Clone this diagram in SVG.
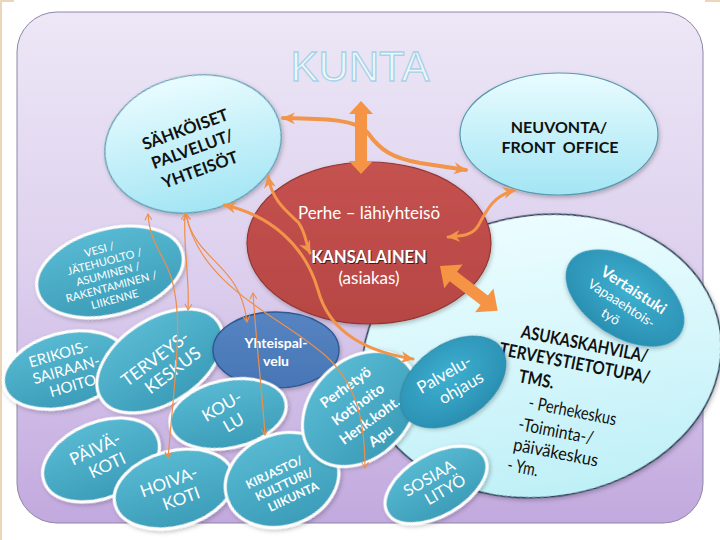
<svg xmlns="http://www.w3.org/2000/svg" width="720" height="540" viewBox="0 0 720 540">
<defs>
<linearGradient id="bg" x1="0" y1="0" x2="0" y2="1">
<stop offset="0" stop-color="#ede7f6"/><stop offset="0.5" stop-color="#ddd0ee"/><stop offset="1" stop-color="#c2a9de"/>
</linearGradient>
<linearGradient id="cyan" x1="0" y1="0" x2="0" y2="1">
<stop offset="0" stop-color="#e9fcff"/><stop offset="1" stop-color="#a3e5f4"/>
</linearGradient>
<linearGradient id="cyanBig" x1="0" y1="0" x2="0" y2="1">
<stop offset="0" stop-color="#ecfdff"/><stop offset="1" stop-color="#bff0f7"/>
</linearGradient>
<linearGradient id="teal" x1="0" y1="0" x2="0" y2="1">
<stop offset="0" stop-color="#58b9d2"/><stop offset="1" stop-color="#3c9db9"/>
</linearGradient>
<radialGradient id="tealDeep" cx="0.5" cy="0.4" r="0.6">
<stop offset="0" stop-color="#3eb0d0"/><stop offset="1" stop-color="#2a8fb2"/>
</radialGradient>
<linearGradient id="red" x1="0" y1="0" x2="0" y2="1">
<stop offset="0" stop-color="#c5524f"/><stop offset="1" stop-color="#b64643"/>
</linearGradient>
<linearGradient id="blue" x1="0" y1="0" x2="0" y2="1">
<stop offset="0" stop-color="#5684c2"/><stop offset="1" stop-color="#4876b6"/>
</linearGradient>
<marker id="ah" viewBox="0 0 14 14" markerWidth="14" markerHeight="14" refX="12" refY="7" orient="auto-start-reverse" markerUnits="userSpaceOnUse">
<path d="M0,1 L13,7 L0,13 L4,7 Z" fill="#f29449"/>
</marker>
<marker id="at" viewBox="0 0 8 8" markerWidth="8" markerHeight="8" refX="7" refY="4" orient="auto-start-reverse" markerUnits="userSpaceOnUse">
<path d="M1,0.5 L7,4 L1,7.5" fill="none" stroke="#ee8e4c" stroke-width="1.1"/>
</marker>
<filter id="sh" x="-20%" y="-20%" width="140%" height="140%">
<feDropShadow dx="1" dy="2" stdDeviation="2" flood-color="#000" flood-opacity="0.25"/>
</filter>
</defs>
<style>
text{font-family:Lato,"Liberation Sans",sans-serif;}
.dk{fill:#111;font-weight:bold;text-anchor:middle;}
.wt{fill:#fff;text-anchor:middle;}
.tealE{fill:url(#teal);stroke:#fff;stroke-width:3;}
.thick{fill:none;stroke:#f29449;stroke-width:4;stroke-linecap:round;}
.mid{fill:none;stroke:#f29449;stroke-width:3;stroke-linecap:round;}
.thin{fill:none;stroke:#ee8e4c;stroke-width:1.2;}
.blk{fill:#f59445;}
</style>

<rect x="0" y="0" width="720" height="540" fill="#fff"/>
<path d="M1,0 V540" stroke="#ecd6ba" stroke-width="2"/>
<path d="M0,1 H14 M705,1 H720" stroke="#ecd6ba" stroke-width="2"/>

<rect x="17" y="12" width="686" height="511" rx="40" ry="40" fill="url(#bg)" stroke="#8d86a8" stroke-width="1"/>

<text x="360" y="81" font-size="42" text-anchor="middle" fill="#f0f7fb" stroke="#a6d2e6" stroke-width="1.3" style="font-family:'Liberation Sans',sans-serif">KUNTA</text>

<g id="asukaskahvila">
<ellipse cx="542" cy="356" rx="180" ry="141" transform="rotate(-8 542 356)" fill="url(#cyanBig)" stroke="#2c3e55" stroke-width="1.5" filter="url(#sh)"/>
<g transform="rotate(11 517 338)" font-size="18" fill="#111">
<text x="520" y="337" font-weight="bold" textLength="129" lengthAdjust="spacingAndGlyphs">ASUKASKAHVILA/</text>
<text x="502" y="358" font-weight="bold" textLength="153" lengthAdjust="spacingAndGlyphs">TERVEYSTIETOTUPA/</text>
<text x="526" y="381" font-weight="bold" textLength="36" lengthAdjust="spacingAndGlyphs">TMS.</text>
<text x="541" y="405" textLength="89" lengthAdjust="spacingAndGlyphs">- Perhekeskus</text>
<text x="535" y="428" textLength="76" lengthAdjust="spacingAndGlyphs">-Toiminta-/</text>
<text x="534" y="449" textLength="86" lengthAdjust="spacingAndGlyphs">päiväkeskus</text>
<text x="532" y="470" textLength="31" lengthAdjust="spacingAndGlyphs">- Ym.</text>
</g>
</g>

<g id="vertaistuki">
<ellipse cx="625" cy="298" rx="66" ry="39" transform="rotate(33 625 298)" fill="url(#tealDeep)" filter="url(#sh)"/>
<g transform="rotate(33 625 298)">
<text x="628" y="292" font-size="15.5" font-weight="bold" class="wt">Vertaistuki</text>
<text x="625" y="309" font-size="13.5" class="wt">Vapaaehtois-</text>
<text x="623" y="326" font-size="13.5" class="wt">työ</text>
</g>
</g>

<g id="sahkoiset">
<ellipse cx="193" cy="144" rx="89" ry="68" transform="rotate(-12 193 144)" fill="url(#cyan)" stroke="#5a98ae" stroke-width="1.2" filter="url(#sh)"/>
<g transform="rotate(-20 192 148)" font-size="16.5">
<text x="192" y="134" class="dk">SÄHKÖISET</text>
<text x="192" y="155" class="dk">PALVELUT/</text>
<text x="192" y="177" class="dk">YHTEISÖT</text>
</g>
</g>

<g id="neuvonta">
<ellipse cx="559" cy="134" rx="99" ry="61" fill="url(#cyan)" stroke="#5a98ae" stroke-width="1.2" filter="url(#sh)"/>
<text x="559" y="133" font-size="16" class="dk">NEUVONTA/</text>
<text x="560" y="153" font-size="16" class="dk" xml:space="preserve">FRONT  OFFICE</text>
</g>

<g id="kansalainen">
<ellipse cx="369" cy="243" rx="122" ry="81" fill="url(#red)" stroke="#923533" stroke-width="1.2" filter="url(#sh)"/>
<text x="369" y="219" font-size="17" class="wt">Perhe – lähiyhteisö</text>
<text x="369.8" y="263.8" font-size="16.5" font-weight="bold" text-anchor="middle" fill="#3a1a1a">KANSALAINEN</text>
<text x="369" y="263" font-size="16.5" font-weight="bold" class="wt">KANSALAINEN</text>
<text x="369" y="284" font-size="17" class="wt">(asiakas)</text>
</g>

<g id="vesi">
<ellipse cx="110" cy="272" rx="75" ry="43" transform="rotate(-15 110 272)" class="tealE" filter="url(#sh)"/>
<g transform="rotate(-15 108 274)" font-size="11">
<text x="106" y="252" class="wt">VESI /</text>
<text x="108" y="265" class="wt">JÄTEHUOLTO /</text>
<text x="108" y="278" class="wt">ASUMINEN /</text>
<text x="108" y="291" class="wt">RAKENTAMINEN /</text>
<text x="108" y="304" class="wt">LIIKENNE</text>
</g>
</g>

<g id="erikois">
<ellipse cx="65" cy="370" rx="63" ry="37" transform="rotate(-15 65 370)" class="tealE" filter="url(#sh)"/>
<g transform="rotate(-16 66 369)" font-size="15">
<text x="63" y="358" class="wt">ERIKOIS-</text>
<text x="66" y="375" class="wt">SAIRAAN-</text>
<text x="68" y="392" class="wt">HOITO</text>
</g>
</g>

<g id="terveyskeskus">
<ellipse cx="160" cy="361" rx="70" ry="42" transform="rotate(-33 160 361)" class="tealE" filter="url(#sh)"/>
<g transform="rotate(-37 163 364)" font-size="17.5">
<text x="160" y="361" class="wt">TERVEYS-</text>
<text x="167" y="381" class="wt">KESKUS</text>
</g>
</g>

<g id="yhteispalvelu">
<ellipse cx="276" cy="350" rx="63" ry="38" fill="url(#blue)" stroke="#2f5a94" stroke-width="1.5" filter="url(#sh)"/>
<text x="276" y="348" font-size="14" font-weight="bold" class="wt">Yhteispal-</text>
<text x="276" y="366" font-size="14" font-weight="bold" class="wt">velu</text>
</g>

<g id="koulu">
<ellipse cx="228" cy="414" rx="59" ry="34" transform="rotate(-12 228 414)" class="tealE" filter="url(#sh)"/>
<g transform="rotate(-30 228 413)" font-size="17">
<text x="226" y="410" class="wt">KOU-</text>
<text x="228" y="430" class="wt">LU</text>
</g>
</g>

<g id="paivakoti">
<ellipse cx="101" cy="460" rx="61" ry="38" transform="rotate(-22 101 460)" class="tealE" filter="url(#sh)"/>
<g transform="rotate(-25 101 457)" font-size="17">
<text x="99" y="453" class="wt">PÄIVÄ-</text>
<text x="103" y="473" class="wt">KOTI</text>
</g>
</g>

<g id="hoivakoti">
<ellipse cx="174" cy="489" rx="61" ry="38" transform="rotate(-15 174 489)" class="tealE" filter="url(#sh)"/>
<g transform="rotate(-20 175 490)" font-size="17">
<text x="172" y="486" class="wt">HOIVA-</text>
<text x="178" y="506" class="wt">KOTI</text>
</g>
</g>

<g id="kirjasto">
<ellipse cx="282" cy="480" rx="58" ry="46" transform="rotate(-20 282 480)" class="tealE" filter="url(#sh)"/>
<g transform="rotate(-25 283 484)" font-size="12" font-weight="bold">
<text x="280" y="474" class="wt">KIRJASTO/</text>
<text x="284" y="489" class="wt">KULTTURI/</text>
<text x="287" y="504" class="wt">LIIKUNTA</text>
</g>
</g>

<g id="perhetyo">
<ellipse cx="360" cy="409" rx="65" ry="49" transform="rotate(-45 360 409)" class="tealE" filter="url(#sh)"/>
<g transform="rotate(-36 362 410)" font-size="14.5" font-weight="bold">
<text x="362" y="387" class="wt">Perhetyö</text>
<text x="362" y="408" class="wt">Kotihoito</text>
<text x="362" y="428" class="wt">Henk.koht.</text>
<text x="362" y="447" class="wt">Apu</text>
</g>
</g>

<g id="palveluohjaus">
<ellipse cx="453" cy="382" rx="59" ry="38" transform="rotate(-35 453 382)" fill="url(#tealDeep)" stroke="#2e87a6" stroke-width="1" filter="url(#sh)"/>
<g transform="rotate(-30 452 380)" font-size="17">
<text x="448" y="377" class="wt">Palvelu-</text>
<text x="456" y="397" class="wt">ohjaus</text>
</g>
</g>

<g id="sosiaalityo">
<ellipse cx="436" cy="485" rx="56" ry="31" transform="rotate(-30 436 485)" class="tealE" filter="url(#sh)"/>
<g transform="rotate(-30 436 484)" font-size="16">
<text x="433" y="481" class="wt">SOSIAA</text>
<text x="441" y="499" class="wt">LITYÖ</text>
</g>
</g>

<g id="connectors">
<path class="thick" d="M283,118 C320,119 355,118 368,133 C380,150 392,158 420,163 L466,170" marker-start="url(#ah)" marker-end="url(#ah)"/>
<polygon class="blk" points="361,101 373,114 367,114 367,161 373,161 361,174 349,161 355,161 355,114 349,114"/>
<path class="mid" d="M515,190 C492,196 486,212 478,226 C472,236 460,236 448,237" marker-start="url(#ah)" marker-end="url(#ah)"/>
<polygon class="blk" transform="translate(440 266) rotate(37.8)" points="0,0 17,-15 17,-6 56,-6 56,-15 73,0 56,15 56,6 17,6 17,15"/>
<path class="mid" d="M224,205 C270,215 305,245 318,290 C330,335 370,352 413,359" marker-start="url(#ah)" marker-end="url(#ah)"/>
<path class="mid" d="M268,176 C272,200 285,210 298,222 C306,232 306,245 310,253" marker-start="url(#ah)" marker-end="url(#ah)"/>
<path class="thin" d="M148,214 C150,245 165,255 172,280 C180,310 178,340 175,380 L168,458" marker-start="url(#at)" marker-end="url(#at)"/>
<path class="thin" d="M185,214 C183,250 190,280 188,310" marker-start="url(#at)" marker-end="url(#at)"/>
<path class="thin" d="M186,214 C195,262 240,262 247,322" marker-start="url(#at)" marker-end="url(#at)"/>
<path class="thin" d="M186,214 C200,290 290,320 330,360 C360,390 365,430 365,468" marker-start="url(#at)" marker-end="url(#at)"/>
<path class="thin" d="M253,293 C256,340 262,390 265,435" marker-start="url(#at)" marker-end="url(#at)"/>
</g>
</svg>
